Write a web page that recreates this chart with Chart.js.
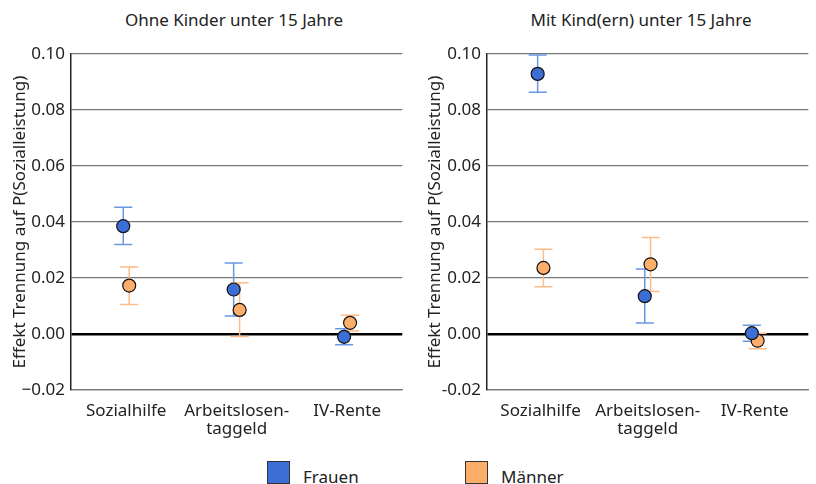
<!DOCTYPE html>
<html>
<head>
<meta charset="utf-8">
<script src="https://cdn.jsdelivr.net/npm/chart.js@4/dist/chart.umd.min.js"></script>
<style>
  body { margin: 0; background: #fff; font-family: "Noto Sans", sans-serif; color: #222; }
  #wrap { position: relative; width: 816px; height: 484px; overflow: hidden; }
  .panel { position: absolute; top: 0; height: 440px; }
  .ttl { position: absolute; top: 8px; font-size: 17px; white-space: nowrap; transform: translateX(-50%); }
  .leg { position: absolute; top: 461px; font-size: 17px; }
  .leg i { position: absolute; left: 0; top: 0; width: 21px; height: 21px; border: 1px solid #333; }
  .leg span { position: absolute; left: 36px; top: 4px; white-space: nowrap; }
</style>
</head>
<body>
<div id="wrap">
  <div class="ttl" style="left:234px">Ohne Kinder unter 15 Jahre</div>
  <div class="ttl" style="left:641px">Mit Kind(ern) unter 15 Jahre</div>
  <div class="panel" style="left:0;width:410px"><canvas id="left" width="410" height="440"></canvas></div>
  <div class="panel" style="left:410px;width:406px"><canvas id="right" width="406" height="440"></canvas></div>
  <div class="leg" style="left:267px"><i style="background:#3b6fd6"></i><span>Frauen</span></div>
  <div class="leg" style="left:465px"><i style="background:#fdae6b"></i><span>Männer</span></div>
</div>
<script>
// categories and tick labels
const categories = ['Sozialhilfe', ['Arbeitslosen-', 'taggeld'], 'IV-Rente'];
const yTicksLeft = ['\u22120.02', '0.00', '0.02', '0.04', '0.06', '0.08', '0.10'];
const yTicksRight = ['-0.02', '0.00', '0.02', '0.04', '0.06', '0.08', '0.10'];

// Ohne Kinder unter 15 Jahre
const ohneFrauen   = [0.0385, 0.0159, -0.0010];
const ohneFrauenLo = [0.0320, 0.0064, -0.0038];
const ohneFrauenHi = [0.0453, 0.0254, 0.0019];
const ohneMaenner   = [0.0173, 0.0086, 0.0040];
const ohneMaennerLo = [0.0105, -0.0009, 0.0011];
const ohneMaennerHi = [0.0239, 0.0183, 0.0067];

// Mit Kind(ern) unter 15 Jahre
const mitFrauen   = [0.0929, 0.0135, 0.0003];
const mitFrauenLo = [0.0863, 0.0039, -0.0026];
const mitFrauenHi = [0.0996, 0.0232, 0.0031];
const mitMaenner   = [0.0236, 0.0249, -0.0024];
const mitMaennerLo = [0.0169, 0.0152, -0.0053];
const mitMaennerHi = [0.0303, 0.0345, 0.0003];

const blue = '#3b6fd6', orange = '#fdae6b';
const blueBar = '#6b97e2', orangeBar = '#fdbb88';
const dodge = 0.027;

Chart.defaults.font.family = '"Noto Sans", sans-serif';
Chart.defaults.color = '#222';

// error bars drawn under the points
const errorBars = {
  id: 'errorBars',
  beforeDatasetsDraw(chart) {
    const ctx = chart.ctx, ys = chart.scales.y;
    chart.data.datasets.forEach((ds, i) => {
      const meta = chart.getDatasetMeta(i);
      ctx.save();
      ctx.strokeStyle = ds.barColor;
      ctx.lineWidth = 1.5;
      meta.data.forEach((pt, j) => {
        const x = pt.x, y1 = ys.getPixelForValue(ds.lo[j]), y2 = ys.getPixelForValue(ds.hi[j]);
        ctx.beginPath();
        ctx.moveTo(x, y1); ctx.lineTo(x, y2);
        ctx.moveTo(x - 9, y1); ctx.lineTo(x + 9, y1);
        ctx.moveTo(x - 9, y2); ctx.lineTo(x + 9, y2);
        ctx.stroke();
      });
      ctx.restore();
    });
  }
};

function points(vals, off) {
  return vals.map((v, i) => ({ x: i + off, y: v }));
}

function makePanel(id, frauen, fLo, fHi, maenner, mLo, mHi, yLabels, yWidth, padRight, titlePad) {
  new Chart(document.getElementById(id), {
    type: 'scatter',
    data: {
      datasets: [
        { label: 'Frauen', data: points(frauen, -dodge), lo: fLo, hi: fHi, barColor: blueBar,
          backgroundColor: blue, borderColor: '#111', borderWidth: 1.2, pointRadius: 6.5, pointHoverRadius: 6.5 },
        { label: 'Männer', data: points(maenner, dodge), lo: mLo, hi: mHi, barColor: orangeBar,
          backgroundColor: orange, borderColor: '#111', borderWidth: 1.2, pointRadius: 6.5, pointHoverRadius: 6.5 }
      ]
    },
    options: {
      responsive: false,
      animation: false,
      layout: { padding: { top: 54, right: padRight, left: 0, bottom: 0 } },
      plugins: { legend: { display: false }, tooltip: { enabled: false } },
      scales: {
        x: {
          type: 'linear', min: -0.5, max: 2.5,
          afterBuildTicks: s => { s.ticks = [0, 1, 2].map(v => ({ value: v })); },
          afterFit: s => { s.height = 50; },
          grid: { display: false },
          border: { display: true, color: '#777', width: 1.2 },
          ticks: { callback: (v) => categories[v], font: { size: 17, lineHeight: 1.08 }, color: '#222', padding: 4, maxRotation: 0 }
        },
        y: {
          min: -0.02, max: 0.10,
          afterFit: s => { s.width = yWidth; },
          grid: {
            drawTicks: false,
            color: c => Math.abs(c.tick.value) < 1e-9 ? '#000' : '#777',
            lineWidth: c => Math.abs(c.tick.value) < 1e-9 ? 2.5 : 1.2
          },
          border: { display: true, color: '#222', width: 1.5 },
          ticks: { stepSize: 0.02, callback: (v, i) => yLabels[i], font: { size: 17 }, color: '#222', padding: 6 },
          title: { display: true, text: 'Effekt Trennung auf P(Sozialleistung)', font: { size: 17 }, color: '#222',
                   padding: { top: titlePad, bottom: 0 } }
        }
      }
    },
    plugins: [errorBars]
  });
}

makePanel('left', ohneFrauen, ohneFrauenLo, ohneFrauenHi, ohneMaenner, ohneMaennerLo, ohneMaennerHi, yTicksLeft, 71, 3, 10);
makePanel('right', mitFrauen, mitFrauenLo, mitFrauenHi, mitMaenner, mitMaennerLo, mitMaennerHi, yTicksRight, 77, 0, 15);
</script>
</body>
</html>
